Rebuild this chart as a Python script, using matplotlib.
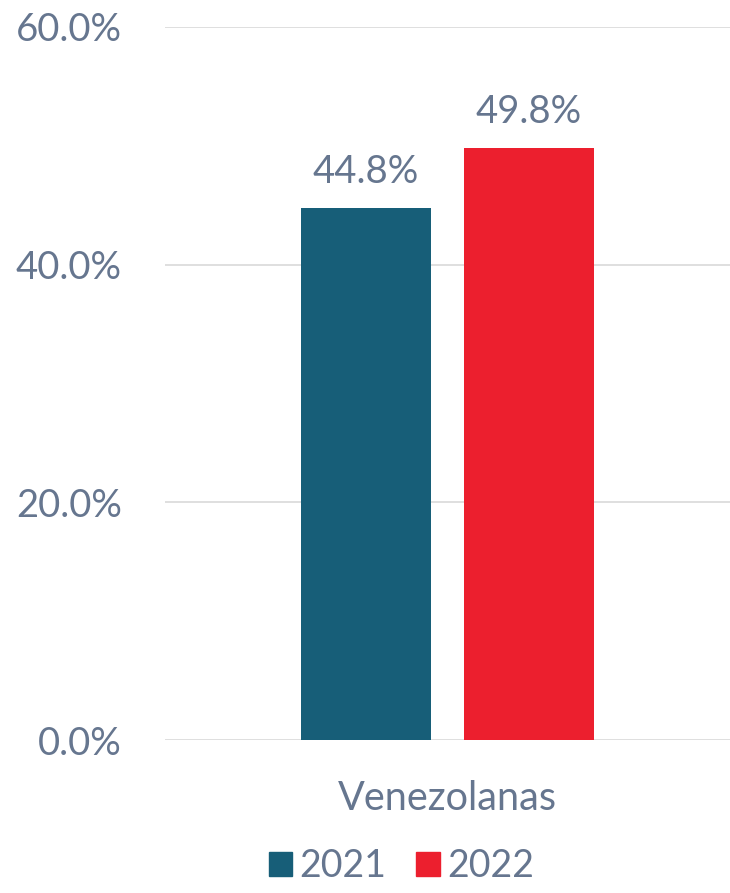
import matplotlib
matplotlib.use("Agg")
import matplotlib.pyplot as plt
from matplotlib.ticker import FuncFormatter
from matplotlib.patches import Patch

categories = ["Venezolanas"]
years = ["2021", "2022"]
values_2021 = [44.8]
values_2022 = [49.8]
yticks = [0, 20, 40, 60]

plt.rcParams['font.family'] = ['Lato', 'DejaVu Sans']
txt = "#66768F"
c21 = "#175E78"
c22 = "#EC1F2E"
fs = 27.5

fig = plt.figure(figsize=(7.3, 8.93), dpi=100)
ax = fig.add_axes([0.226, 0.1713, 0.774, 0.7985])

w = 0.46
off = 0.288
b1 = ax.bar([i - off for i in range(len(categories))], values_2021, width=w, color=c21, label=years[0], zorder=3)
b2 = ax.bar([i + off for i in range(len(categories))], values_2022, width=w, color=c22, label=years[1], zorder=3)

for bars, vals in ((b1, values_2021), (b2, values_2022)):
    for r, v in zip(bars, vals):
        ax.text(r.get_x() + r.get_width() / 2, v + 1.5, f"{v:.1f}%", ha="center", va="bottom",
                fontsize=fs, color=txt)

ax.set_xlim(-1, 1)
ax.set_ylim(0, 60)
ax.set_yticks(yticks)
ax.yaxis.set_major_formatter(FuncFormatter(lambda v, p: f"{v:.1f}%"))
ax.set_xticks(range(len(categories)))
ax.set_xticklabels(categories)
ax.tick_params(axis="y", length=0, labelsize=fs, labelcolor=txt, pad=31)
ax.tick_params(axis="x", length=0, labelsize=fs + 1, labelcolor=txt, pad=29)
ax.grid(axis="y", color="#D9D9D9", linewidth=1.2, zorder=0)
for s in ax.spines.values():
    s.set_visible(False)

handles = [Patch(color=c21, label=years[0]), Patch(color=c22, label=years[1])]
fig.legend(handles=handles, loc="center", bbox_to_anchor=(0.55, 0.03), ncol=2, frameon=False,
           fontsize=fs - 0.5, labelcolor=txt, handlelength=0.62, handleheight=0.62, handletextpad=0.2,
           columnspacing=0.8, borderpad=0)

fig.savefig("out.png", dpi=100)
